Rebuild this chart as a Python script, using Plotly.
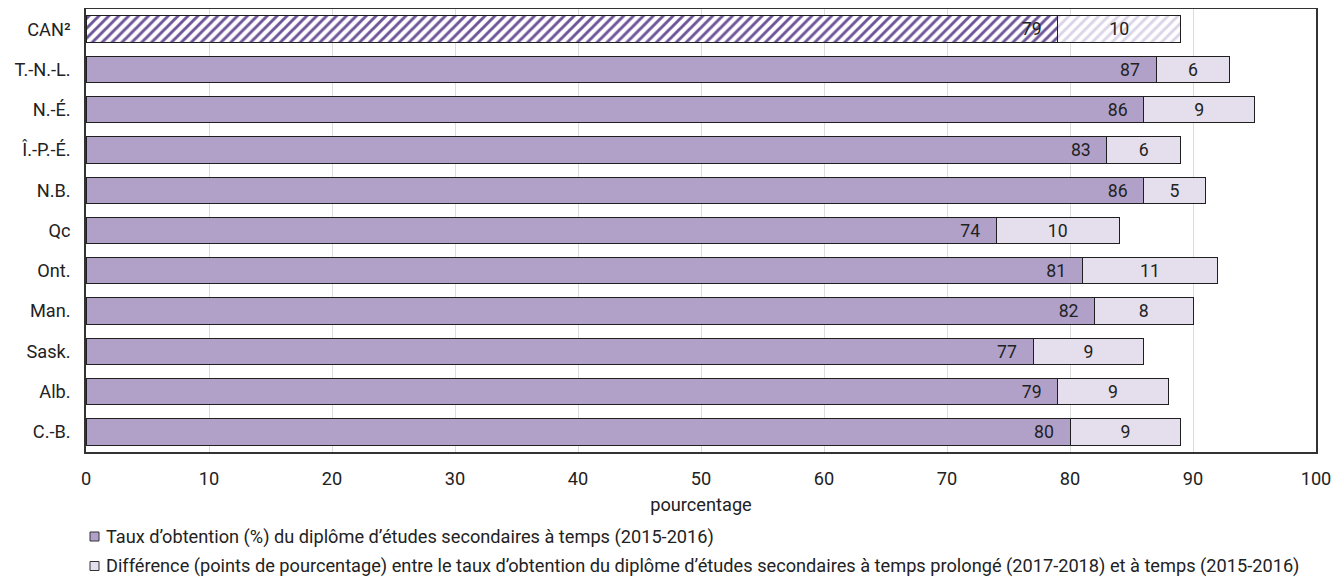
import plotly.graph_objects as go

categories = ["CAN²", "T.-N.-L.", "N.-É.", "Î.-P.-É.", "N.B.", "Qc", "Ont.", "Man.", "Sask.", "Alb.", "C.-B."]
on_time = [79, 87, 86, 83, 86, 74, 81, 82, 77, 79, 80]
difference = [10, 6, 9, 6, 5, 10, 11, 8, 9, 9, 9]
x_ticks = [0, 10, 20, 30, 40, 50, 60, 70, 80, 90, 100]
legend_labels = [
    "Taux d’obtention (%) du diplôme d’études secondaires à temps (2015-2016)",
    "Différence (points de pourcentage) entre le taux d’obtention du diplôme d’études secondaires à temps prolongé (2017-2018) et à temps (2015-2016)",
]
x_title = "pourcentage"

FONT = "Roboto, Liberation Sans, sans-serif"
FS = 18.2
MAIN = "#b1a1c9"
LIGHT = "#e5dfed"
HATCH_DARK = "#6e5499"
HATCH_LIGHT = "#dcd4e8"
EDGE = "#1f1f1f"
TXT = "#222222"

is_can = [c.startswith("CAN") for c in categories]
cat_can = [c for c, k in zip(categories, is_can) if k]
cat_prov = [c for c, k in zip(categories, is_can) if not k]
main_can = [v for v, k in zip(on_time, is_can) if k]
main_prov = [v for v, k in zip(on_time, is_can) if not k]
diff_can = [v for v, k in zip(difference, is_can) if k]
diff_prov = [v for v, k in zip(difference, is_can) if not k]

pad = "\u00a0\u00a0\u00a0"
txtfont = dict(family=FONT, size=FS, color=TXT)

fig = go.Figure()
fig.add_trace(go.Bar(
    y=cat_prov, x=main_prov, orientation="h",
    marker=dict(color=MAIN, line=dict(color=EDGE, width=1)),
    text=[f"{v}{pad}" for v in main_prov], textposition="inside",
    insidetextanchor="end", textangle=0, textfont=txtfont,
    showlegend=False, hoverinfo="skip",
))
fig.add_trace(go.Bar(
    y=cat_can, x=main_can, orientation="h",
    marker=dict(color="white", line=dict(color=EDGE, width=1),
                pattern=dict(shape="/", fgcolor=HATCH_DARK, bgcolor="white",
                             size=7, solidity=0.42, fillmode="replace")),
    text=[f"{v}{pad}" for v in main_can], textposition="inside",
    insidetextanchor="end", textangle=0, textfont=txtfont,
    showlegend=False, hoverinfo="skip",
))
fig.add_trace(go.Bar(
    y=cat_prov, x=diff_prov, orientation="h",
    marker=dict(color=LIGHT, line=dict(color=EDGE, width=1)),
    text=[str(v) for v in diff_prov], textposition="inside",
    insidetextanchor="middle", textangle=0, textfont=txtfont,
    showlegend=False, hoverinfo="skip",
))
fig.add_trace(go.Bar(
    y=cat_can, x=diff_can, orientation="h",
    marker=dict(color="white", line=dict(color=EDGE, width=1),
                pattern=dict(shape="/", fgcolor=HATCH_LIGHT, bgcolor="white",
                             size=7, solidity=0.42, fillmode="replace")),
    text=[str(v) for v in diff_can], textposition="inside",
    insidetextanchor="middle", textangle=0, textfont=txtfont,
    showlegend=False, hoverinfo="skip",
))

# page body has an 8px margin: lay out in page pixels minus 8
OFF = 8
W, H = 1344 - OFF, 577 - OFF
pl, pr = 86 - OFF, 1316 - OFF
plot_top, plot_bot = 9 - OFF, 452 - OFF
ph = plot_bot - plot_top
pw = pr - pl

shapes = []
annotations = []
leg_rows_px = [536.5 - OFF, 566 - OFF]
for i, (label, fill) in enumerate(zip(legend_labels, [MAIN, LIGHT])):
    cy = leg_rows_px[i]
    y_paper = (plot_bot - cy) / ph
    half = 4.5 / ph
    shapes.append(dict(type="rect", xref="paper", yref="paper",
                       x0=(90 - OFF - pl) / pw, x1=(99 - OFF - pl) / pw,
                       y0=y_paper - half, y1=y_paper + half,
                       fillcolor=fill, line=dict(color="#333333", width=1)))
    annotations.append(dict(text=label, xref="paper", yref="paper",
                            x=(104 - OFF - pl) / pw, y=y_paper, xanchor="left", yanchor="middle",
                            showarrow=False, font=dict(family=FONT, size=FS, color=TXT)))

fig.update_layout(
    width=W, height=H,
    margin=dict(l=pl, r=W - pr, t=plot_top, b=H - plot_bot, autoexpand=False),
    barmode="stack", bargap=0.345,
    plot_bgcolor="white", paper_bgcolor="white",
    font=dict(family=FONT, size=FS, color=TXT),
    shapes=shapes, annotations=annotations,
    xaxis=dict(range=[0, 100], tickvals=x_ticks, ticktext=[str(t) for t in x_ticks],
               showgrid=True, gridcolor="#dcdcdc", gridwidth=1,
               showline=True, linecolor="#333333", linewidth=1.5, mirror=True,
               ticks="", ticklabelstandoff=9, zeroline=False,
               title=dict(text=x_title, standoff=11, font=dict(family=FONT, size=FS, color=TXT)),
               tickfont=dict(family=FONT, size=FS, color=TXT)),
    yaxis=dict(autorange="reversed", showgrid=False, categoryorder="array", categoryarray=categories,
               showline=True, linecolor="#333333", linewidth=1.5, mirror=True,
               ticks="", ticklabelstandoff=10,
               tickfont=dict(family=FONT, size=FS, color=TXT)),
)

fig.write_html("out.html")
